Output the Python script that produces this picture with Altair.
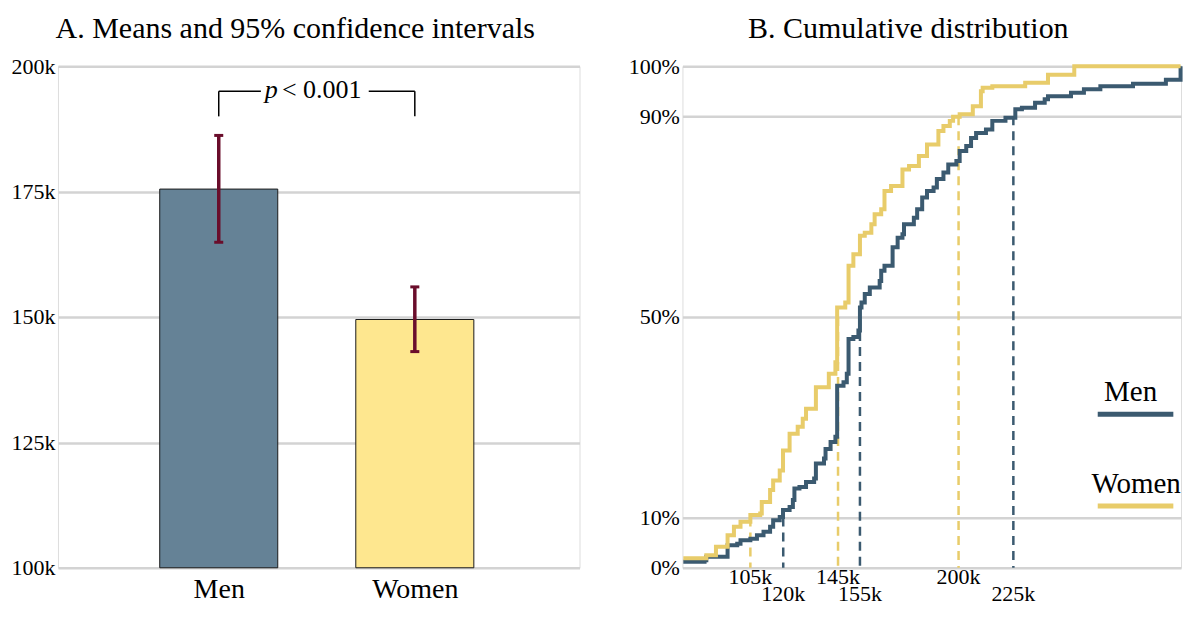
import altair as alt
import pandas as pd

FONT = "Liberation Serif"

# ---------------- Panel A data ----------------
groups = ["Men", "Women"]
positions = [1, 2]
means = [175.5, 149.5]          # thousands
ci_low = [164.9, 143.1]
ci_high = [186.2, 156.0]
bar_colors = ["#658296", "#fee78f"]
ci_color = "#6a0d2b"

bracket_start = [1.0, 1.765]
bracket_end = [1.215, 2.0]
bracket_level = 195
bracket_foot = 190

# ---------------- Panel B data ----------------
women_k = [74.4, 84.9, 89.3, 94.6, 97.5, 100.5, 105.0, 109.5, 110.2, 114.0, 115.4, 118.4,
           119.9, 122.9, 126.6, 128.9, 130.4, 134.9, 140.8, 143.8, 144.6, 148.3, 149.8,
           152.0, 155.0, 157.2, 160.2, 161.7, 164.7, 166.2, 169.2, 174.4, 177.4, 181.9,
           185.6, 190.8, 193.1, 196.0, 197.5, 200.5, 206.5, 210.2, 211.0, 215.4, 230.4,
           240.8, 252.8, 301.3]
women_pct = [1.9, 2.5, 4.2, 6.5, 8.2, 9.2, 10.5, 10.8, 13.1, 15.5, 17.4, 19.4,
             23.4, 26.7, 28.1, 29.7, 31.7, 36.0, 38.7, 41.0, 51.9, 52.9, 60.2,
             62.5, 66.2, 66.8, 68.5, 70.5, 71.5, 75.1, 76.1, 79.4, 80.1, 82.1,
             84.4, 87.1, 88.1, 89.1, 89.9, 90.4, 92.0, 95.0, 95.7, 96.0, 96.7,
             98.3, 100.0, 100.0]

men_k = [74.4, 84.1, 84.9, 94.6, 99.0, 100.5, 105.0, 108.0, 111.0, 114.0, 115.4, 118.4,
         119.9, 122.9, 124.4, 125.1, 127.4, 130.4, 134.1, 134.9, 138.6, 139.3, 141.6,
         143.8, 144.6, 147.5, 149.0, 149.8, 152.0, 154.3, 155.0, 155.7, 157.2, 159.5,
         164.0, 164.7, 166.2, 169.9, 172.2, 174.4, 175.1, 179.6, 181.1, 183.4, 185.6,
         188.6, 190.1, 193.1, 195.3, 199.0, 200.5, 203.5, 205.7, 208.0, 212.5, 215.4,
         221.4, 225.9, 228.9, 234.9, 239.3, 240.8, 251.3, 257.2, 264.7, 279.6, 294.6,
         301.3]
men_pct = [1.2, 1.5, 2.2, 4.5, 4.8, 5.5, 5.8, 6.5, 7.2, 8.2, 9.5, 10.1,
           11.5, 12.1, 13.5, 15.8, 16.1, 17.1, 17.8, 20.8, 21.8, 23.7, 25.1,
           26.1, 36.3, 37.0, 38.7, 45.6, 46.0, 47.3, 51.9, 52.9, 54.6, 55.9,
           57.2, 59.2, 60.2, 63.9, 65.8, 66.5, 68.5, 69.8, 71.5, 73.8, 75.1,
           75.8, 77.5, 78.8, 80.4, 81.1, 83.1, 84.1, 85.7, 86.7, 87.4, 89.1,
           89.7, 91.4, 91.7, 92.7, 93.4, 94.0, 94.7, 95.4, 96.0, 96.5, 97.3,
           100.0]

quant_levels = [10, 50, 90]
women_quant_k = [105, 145, 200]
men_quant_k = [120, 155, 225]
women_labels = ["105k", "145k", "200k"]
men_labels = ["120k", "155k", "225k"]
line_colors = ["#3b5a70", "#e8cc6a"]

# ---------------- Panel A ----------------
bar_df = pd.DataFrame({"group": groups, "pos": positions, "mean": means,
                       "lo": ci_low, "hi": ci_high})

xA = alt.Scale(domain=[0.18, 2.84], nice=False, zero=False)
yA = alt.Scale(domain=[100, 200], nice=False, zero=False)

baseA = alt.Chart(bar_df)

bars = baseA.transform_calculate(
    left="datum.pos - 0.301", right="datum.pos + 0.301"
).mark_bar(stroke="#1a1a1a", strokeWidth=1).encode(
    x=alt.X("left:Q", scale=xA, title=None,
            axis=alt.Axis(values=[1, 2], labelExpr="datum.value == 1 ? 'Men' : 'Women'",
                          grid=False, ticks=False, domain=False, labelFontSize=28,
                          labelPadding=8, labelColor="black", labelFont=FONT)),
    x2="right:Q",
    y=alt.Y("mean:Q", scale=yA, title=None,
            axis=alt.Axis(values=[100, 125, 150, 175, 200], labelExpr="datum.value + 'k'",
                          grid=True, gridColor="#d3d3d3", gridWidth=2.5, ticks=False,
                          domain=False, labelFontSize=22, labelPadding=3,
                          labelColor="black", labelFont=FONT)),
    y2=alt.datum(100),
    color=alt.Color("group:N", scale=alt.Scale(domain=groups, range=bar_colors), legend=None),
)

ci_rule = baseA.mark_rule(color=ci_color, strokeWidth=3.5).encode(
    x=alt.X("pos:Q", scale=xA), y=alt.Y("lo:Q", scale=yA), y2="hi:Q")

caps_df = pd.DataFrame({"pos": positions * 2, "v": ci_low + ci_high})
caps = alt.Chart(caps_df).transform_calculate(
    a="datum.pos - 0.023", b="datum.pos + 0.023"
).mark_rule(color=ci_color, strokeWidth=3).encode(
    x=alt.X("a:Q", scale=xA), x2="b:Q", y=alt.Y("v:Q", scale=yA))

br_df = pd.DataFrame({"s": bracket_start, "e": bracket_end, "y": [bracket_level] * 2})
br_h = alt.Chart(br_df).mark_rule(color="black", strokeWidth=1.5).encode(
    x=alt.X("s:Q", scale=xA), x2="e:Q", y=alt.Y("y:Q", scale=yA))
brv_df = pd.DataFrame({"x": positions, "y1": [bracket_foot] * 2, "y2": [bracket_level] * 2})
br_v = alt.Chart(brv_df).mark_rule(color="black", strokeWidth=1.5).encode(
    x=alt.X("x:Q", scale=xA), y=alt.Y("y1:Q", scale=yA), y2="y2:Q")

p_parts = pd.DataFrame({"x": [1.235, 1.322, 1.43], "y": [bracket_level] * 3,
                        "t": ["p", "<", "0.001"], "it": ["italic", "normal", "normal"]})
p_txt = alt.Chart(p_parts).transform_filter("datum.it == 'italic'").mark_text(
    font=FONT, fontSize=26, fontStyle="italic", align="left", baseline="middle", dy=-1
).encode(x=alt.X("x:Q", scale=xA), y=alt.Y("y:Q", scale=yA), text="t:N")
lt_txt = alt.Chart(p_parts).transform_filter("datum.it == 'normal'").mark_text(
    font=FONT, fontSize=26, align="left", baseline="middle", dy=-1
).encode(x=alt.X("x:Q", scale=xA), y=alt.Y("y:Q", scale=yA), text="t:N")

left = alt.layer(bars, ci_rule, caps, br_h, br_v, p_txt, lt_txt).properties(
    width=522, height=502,
    title=alt.TitleParams("A. Means and 95% confidence intervals", font=FONT, fontSize=30,
                          fontWeight="normal", anchor="middle", frame="bounds",
                          offset=11, color="black"))

# ---------------- Panel B ----------------
cdf_df = pd.concat([
    pd.DataFrame({"k": men_k, "pct": men_pct, "series": "Men"}),
    pd.DataFrame({"k": women_k, "pct": women_pct, "series": "Women"}),
])
q_df = pd.concat([
    pd.DataFrame({"k": men_quant_k, "top": quant_levels, "series": "Men", "lab": men_labels}),
    pd.DataFrame({"k": women_quant_k, "top": quant_levels, "series": "Women", "lab": women_labels}),
])

xB = alt.Scale(domain=[74, 301.5], nice=False, zero=False)
yB = alt.Scale(domain=[0, 100], nice=False)
colB = alt.Color("series:N", scale=alt.Scale(domain=groups, range=line_colors), legend=None)

dashes = alt.Chart(q_df).mark_rule(strokeDash=[9, 6], strokeWidth=2.5).encode(
    x=alt.X("k:Q", scale=xB, axis=None),
    y=alt.Y("top:Q", scale=yB, title=None,
            axis=alt.Axis(values=[0, 10, 50, 90, 100], labelExpr="datum.value + '%'",
                          grid=True, gridColor="#d3d3d3", gridWidth=2.5, ticks=False,
                          domain=False, labelFontSize=22, labelPadding=3,
                          labelColor="black", labelFont=FONT)),
    y2=alt.datum(0),
    color=colB,
)

curves = alt.Chart(cdf_df).mark_line(interpolate="step-after", strokeWidth=4).encode(
    x=alt.X("k:Q", scale=xB), y=alt.Y("pct:Q", scale=yB), color=colB, detail="series:N")

lab_w = alt.Chart(q_df).transform_filter("datum.series == 'Women'").mark_text(
    font=FONT, fontSize=22, baseline="top", dy=-1, color="black"
).encode(x=alt.X("k:Q", scale=xB), y=alt.datum(0), text="lab:N")
lab_m = alt.Chart(q_df).transform_filter("datum.series == 'Men'").mark_text(
    font=FONT, fontSize=22, baseline="top", dy=16, color="black"
).encode(x=alt.X("k:Q", scale=xB), y=alt.datum(0), text="lab:N")

leg_df = pd.DataFrame({"series": groups, "x1": [263.5, 263.5], "x2": [298.0, 298.0],
                       "ly": [30.6, 12.3], "tx": [278.5, 281.0], "ty": [33.2, 15.0]})
leg_lines = alt.Chart(leg_df).mark_rule(strokeWidth=5).encode(
    x=alt.X("x1:Q", scale=xB), x2="x2:Q", y=alt.Y("ly:Q", scale=yB), color=colB)
leg_text = alt.Chart(leg_df).mark_text(font=FONT, fontSize=29, baseline="alphabetic",
                                       color="black").encode(
    x=alt.X("tx:Q", scale=xB), y=alt.Y("ty:Q", scale=yB), text="series:N")

right = alt.layer(dashes, curves, lab_w, lab_m, leg_lines, leg_text).properties(
    width=499, height=502,
    title=alt.TitleParams("B. Cumulative distribution", font=FONT, fontSize=30,
                          fontWeight="normal", anchor="middle", frame="bounds",
                          offset=11, color="black"))

chart = alt.hconcat(left, right, spacing=47).resolve_scale(color="independent").properties(
    padding={"left": 2, "top": 5, "right": 0, "bottom": 0}
).configure_view(stroke=None).configure(font=FONT)

chart.save("out.html", embed_options={"renderer": "svg", "actions": False})
